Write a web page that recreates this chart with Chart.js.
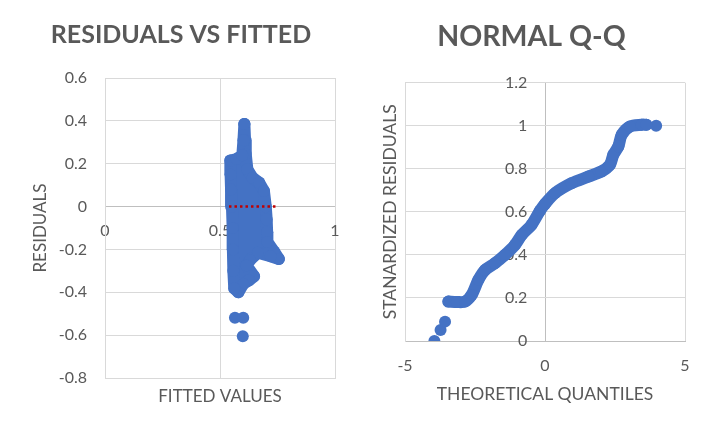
<!DOCTYPE html>
<html>
<head>
<meta charset="utf-8">
<script src="https://cdn.jsdelivr.net/npm/chart.js@4.4.1/dist/chart.umd.min.js"></script>
<style>
  html, body { margin: 0; padding: 0; background: #fff; }
  .panel { position: absolute; top: 0; height: 433px; }
  #left { left: 0; width: 360px; }
  #right { left: 360px; width: 353px; }
</style>
</head>
<body>
<div class="panel" id="left"><canvas id="residChart"></canvas></div>
<div class="panel" id="right"><canvas id="qqChart"></canvas></div>
<script>
// Residuals vs fitted: outline of the dense cloud of points
const cloudFitted = [0.606, 0.609, 0.612, 0.619, 0.641, 0.67, 0.691, 0.699, 0.703, 0.705, 0.706, 0.735, 0.756,
  0.72, 0.665, 0.63, 0.615, 0.648, 0.625, 0.601, 0.58, 0.562, 0.558, 0.556, 0.555, 0.552, 0.548, 0.546, 0.545,
  0.572, 0.597, 0.602, 0.606];
const cloudResid = [0.385, 0.31, 0.245, 0.174, 0.135, 0.112, 0.073, 0.0, -0.06, -0.12, -0.165, -0.21, -0.245,
  -0.232, -0.215, -0.25, -0.275, -0.325, -0.345, -0.361, -0.4, -0.382, -0.3, -0.2, -0.1, 0.0, 0.08, 0.15, 0.215,
  0.222, 0.24, 0.31, 0.385];
// stray points under the cloud
const strayFitted = [0.565, 0.601, 0.599];
const strayResid = [-0.519, -0.519, -0.605];
// red dotted zero line
const zeroFitted = [0.539, 0.751];
const zeroResid = [0, 0];

const fittedTicks = [0, 0.5, 1];
const residTicks = [-0.8, -0.6, -0.4, -0.2, 0, 0.2, 0.4, 0.6];

// Normal Q-Q
const qqTheoretical = [-3.45, -3.15, -2.86, -2.62, -2.38, -2.14, -1.79, -1.43, -1.07, -0.83, -0.48, -0.18, 0.0,
  0.36, 0.95, 1.55, 2.02, 2.32, 2.44, 2.62, 2.74, 3.04, 3.45, 3.62];
const qqStandardized = [0.183, 0.181, 0.183, 0.214, 0.284, 0.33, 0.361, 0.4, 0.447, 0.493, 0.54, 0.605, 0.637,
  0.687, 0.733, 0.764, 0.788, 0.819, 0.865, 0.904, 0.958, 0.997, 1.005, 1.005];
const qqTailTheoretical = [-3.95, -3.73, -3.57, 3.97];
const qqTailStandardized = [0, 0.051, 0.09, 1.0];

const quantileTicks = [-5, 0, 5];
const stdResidTicks = [0, 0.2, 0.4, 0.6, 0.8, 1, 1.2];

const BLUE = "#4472C4";
const GRID = "#D9D9D9";
const AXIS = "#BFBFBF";
const TEXT = "#595959";

Chart.defaults.font.family = "Lato, 'Open Sans', sans-serif";
Chart.defaults.color = TEXT;

function toPoints(xs, ys) {
  return xs.map((x, i) => ({ x: x, y: ys[i] }));
}

function setTicks(values) {
  return function (scale) {
    scale.ticks = values.map((v) => ({ value: v }));
  };
}

// mirrored labels are pushed into the plot, so they must not pad the layout
function fixSize(prop, size) {
  return function (scale) {
    scale[prop] = size;
    scale.paddingLeft = 0;
    scale.paddingRight = 0;
    scale.paddingTop = 0;
    scale.paddingBottom = 0;
  };
}

const plainLabel = (v) => String(v);

// Residuals vs fitted
new Chart(document.getElementById("residChart"), {
  type: "scatter",
  data: {
    datasets: [
      {
        data: toPoints(zeroFitted, zeroResid),
        showLine: true,
        borderColor: "#C00000",
        borderWidth: 2.5,
        borderDash: [2.5, 3],
        pointRadius: 0,
        order: 0,
      },
      {
        data: toPoints(cloudFitted, cloudResid),
        showLine: true,
        fill: "shape",
        backgroundColor: BLUE,
        borderColor: BLUE,
        borderWidth: 12,
        borderJoinStyle: "round",
        borderCapStyle: "round",
        pointRadius: 6,
        pointBackgroundColor: BLUE,
        pointBorderWidth: 0,
        order: 1,
      },
      {
        data: toPoints(strayFitted, strayResid),
        pointRadius: 6,
        pointBackgroundColor: BLUE,
        pointBorderWidth: 0,
        order: 2,
      },
    ],
  },
  options: {
    responsive: true,
    maintainAspectRatio: false,
    animation: false,
    events: [],
    layout: { padding: { left: 27, right: 25, top: 0, bottom: 0 } },
    plugins: {
      legend: { display: false },
      tooltip: { enabled: false },
      title: {
        display: true,
        text: "RESIDUALS VS FITTED",
        color: TEXT,
        font: { size: 25, weight: "bold" },
        padding: { top: 20, bottom: 28 },
      },
    },
    scales: {
      x: {
        type: "linear",
        position: "bottom",
        min: 0,
        max: 1,
        afterBuildTicks: setTicks(fittedTicks),
        afterFit: fixSize("height", 55),
        grid: { color: GRID, drawTicks: false },
        border: { color: GRID },
        ticks: { mirror: true, padding: 138, font: { size: 16 }, color: TEXT, callback: plainLabel },
        title: {
          display: true,
          text: "FITTED VALUES",
          color: TEXT,
          font: { size: 17 },
          padding: { top: 0, bottom: 26 },
        },
      },
      y: {
        type: "linear",
        position: "left",
        min: -0.8,
        max: 0.6,
        afterBuildTicks: setTicks(residTicks),
        afterFit: (s) => { s.width = 78; },
        grid: {
          color: (ctx) => (ctx.tick && ctx.tick.value === 0 ? AXIS : GRID),
          drawTicks: false,
        },
        border: { color: GRID },
        ticks: { padding: 18, font: { size: 16 }, color: TEXT, callback: plainLabel },
        title: {
          display: true,
          text: "RESIDUALS",
          color: TEXT,
          font: { size: 17 },
          padding: { top: 3, bottom: 0 },
        },
      },
    },
  },
});

// Normal Q-Q
new Chart(document.getElementById("qqChart"), {
  type: "scatter",
  data: {
    datasets: [
      {
        data: toPoints(qqTheoretical, qqStandardized),
        showLine: true,
        borderColor: BLUE,
        borderWidth: 12,
        borderJoinStyle: "round",
        borderCapStyle: "round",
        tension: 0.3,
        pointRadius: 6,
        pointBackgroundColor: BLUE,
        pointBorderWidth: 0,
      },
      {
        data: toPoints(qqTailTheoretical, qqTailStandardized),
        pointRadius: 6,
        pointBackgroundColor: BLUE,
        pointBorderWidth: 0,
      },
    ],
  },
  options: {
    responsive: true,
    maintainAspectRatio: false,
    animation: false,
    events: [],
    layout: { padding: { left: 18, right: 28, top: 0, bottom: 0 } },
    plugins: {
      legend: { display: false },
      tooltip: { enabled: false },
      title: {
        display: true,
        text: "NORMAL Q-Q",
        color: TEXT,
        font: { size: 28.5, weight: "bold" },
        padding: { top: 19.5, bottom: 29 },
      },
    },
    scales: {
      x: {
        type: "linear",
        position: "bottom",
        min: -5,
        max: 5,
        afterBuildTicks: setTicks(quantileTicks),
        afterFit: (s) => { s.height = 92; },
        grid: {
          color: (ctx) => (ctx.tick && ctx.tick.value === 0 ? AXIS : GRID),
          drawTicks: false,
        },
        border: { color: AXIS },
        ticks: { padding: 15, font: { size: 16 }, color: TEXT, callback: plainLabel },
        title: {
          display: true,
          text: "THEORETICAL QUANTILES",
          color: TEXT,
          font: { size: 17.5 },
          padding: { top: 0, bottom: 28 },
        },
      },
      y: {
        type: "linear",
        position: "left",
        min: 0,
        max: 1.2,
        afterBuildTicks: setTicks(stdResidTicks),
        afterFit: fixSize("width", 27),
        grid: { color: GRID, drawTicks: false },
        border: { color: GRID },
        ticks: { mirror: true, crossAlign: "far", padding: 100, font: { size: 16 }, color: TEXT, callback: plainLabel },
        title: {
          display: true,
          text: "STANARDIZED RESIDUALS",
          color: TEXT,
          font: { size: 17.5 },
          padding: { top: 2, bottom: 0 },
        },
      },
    },
  },
});
</script>
</body>
</html>
